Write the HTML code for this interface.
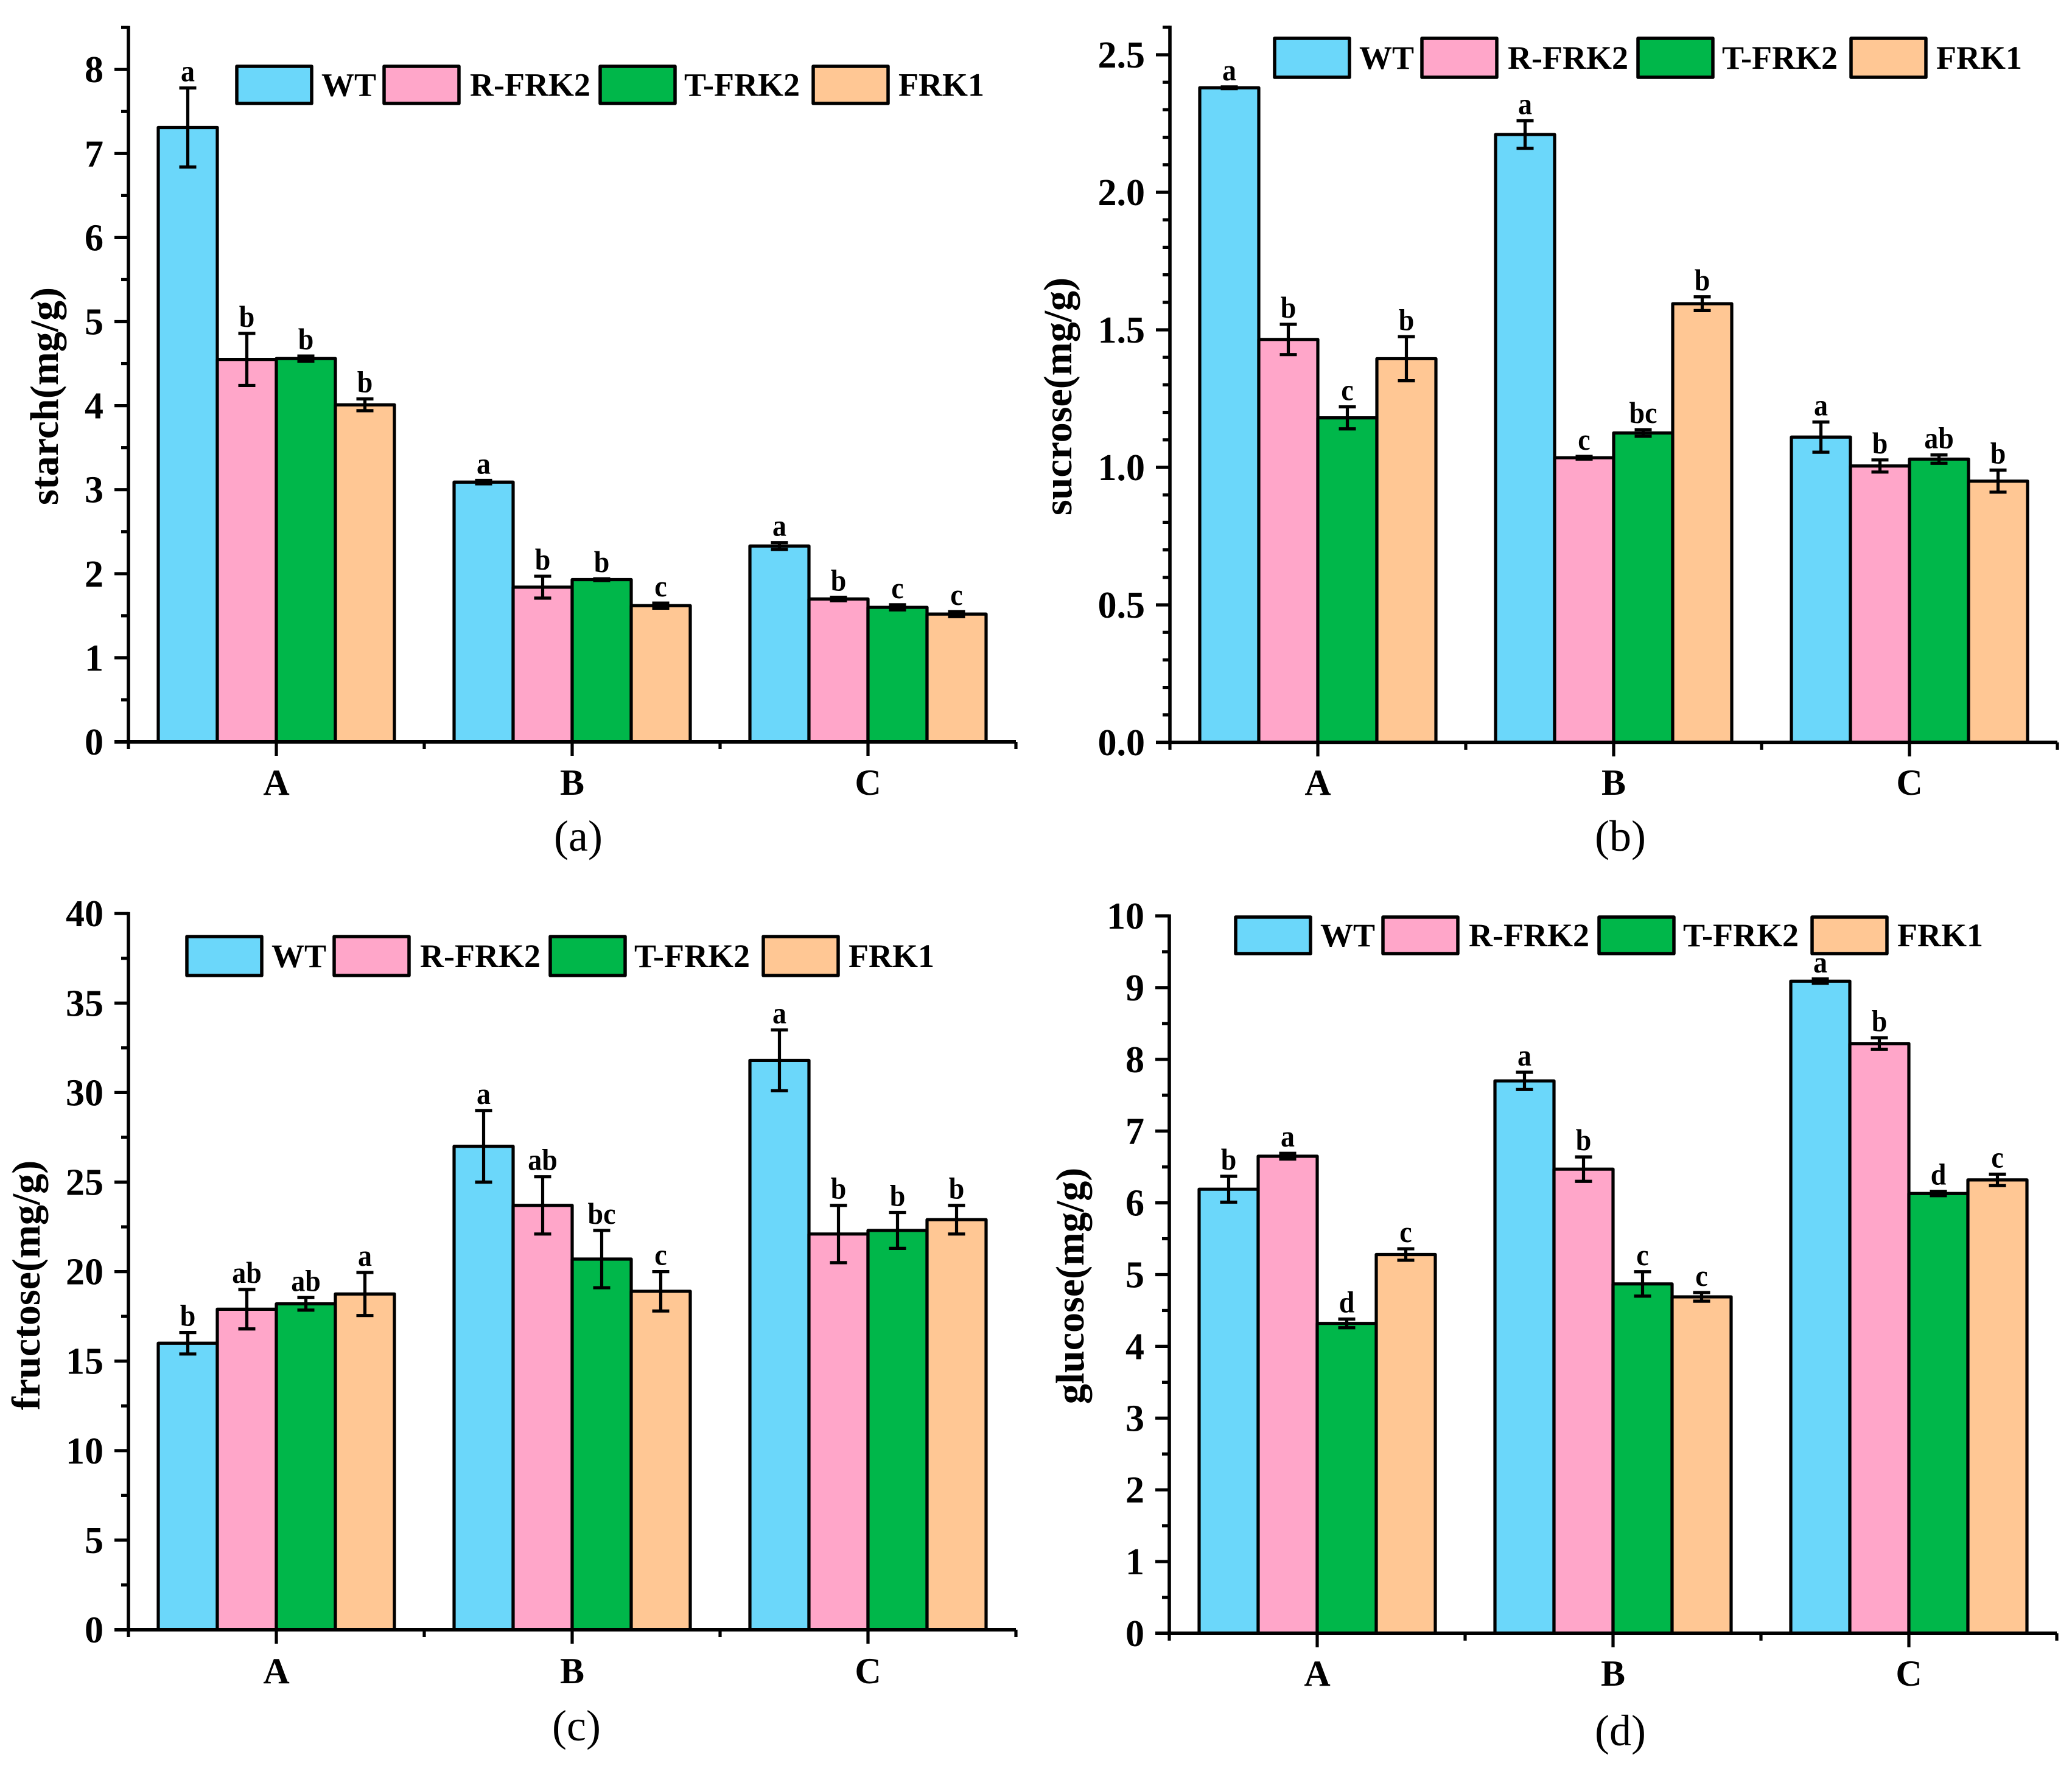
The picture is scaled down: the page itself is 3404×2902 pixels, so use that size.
<!DOCTYPE html>
<html lang="en">
<head>
<meta charset="utf-8">
<title>Sugar and starch content bar charts</title>
<style>
html,body{margin:0;padding:0;background:#fff}
svg{display:block}
text{font-family:"Liberation Serif",serif;fill:#000}
</style>
</head>
<body>
<svg id="figure" xmlns="http://www.w3.org/2000/svg" width="3404" height="2902" viewBox="0 0 3404 2902"></svg>
<script>
const categories = ['A', 'B', 'C'];
const seriesNames = ['WT', 'R-FRK2', 'T-FRK2', 'FRK1'];
const seriesColors = ['#6BD7FA', '#FFA6C9', '#00B74A', '#FFC794'];

const starchTicks = ['0', '1', '2', '3', '4', '5', '6', '7', '8'];
const starchMeans = [[7.31, 3.09, 2.33], [4.55, 1.84, 1.70], [4.56, 1.93, 1.60], [4.01, 1.62, 1.52]];
const starchErrors = [[0.47, 0.02, 0.04], [0.31, 0.13, 0.02], [0.03, 0.01, 0.03], [0.07, 0.03, 0.03]];
const starchLetters = [['a', 'a', 'a'], ['b', 'b', 'b'], ['b', 'b', 'c'], ['b', 'c', 'c']];

const sucroseTicks = ['0.0', '0.5', '1.0', '1.5', '2.0', '2.5'];
const sucroseMeans = [[2.38, 2.21, 1.11], [1.465, 1.035, 1.005], [1.18, 1.125, 1.03], [1.395, 1.595, 0.95]];
const sucroseErrors = [[0.003, 0.05, 0.055], [0.055, 0.005, 0.022], [0.04, 0.012, 0.015], [0.08, 0.025, 0.04]];
const sucroseLetters = [['a', 'a', 'a'], ['b', 'c', 'b'], ['c', 'bc', 'ab'], ['b', 'b', 'b']];

const fructoseTicks = ['0', '5', '10', '15', '20', '25', '30', '35', '40'];
const fructoseMeans = [[16.0, 27.0, 31.8], [17.9, 23.7, 22.1], [18.2, 20.7, 22.3], [18.75, 18.9, 22.9]];
const fructoseErrors = [[0.6, 2.0, 1.7], [1.1, 1.6, 1.6], [0.35, 1.6, 1.0], [1.2, 1.1, 0.8]];
const fructoseLetters = [['b', 'a', 'a'], ['ab', 'ab', 'b'], ['ab', 'bc', 'b'], ['a', 'c', 'b']];

const glucoseTicks = ['0', '1', '2', '3', '4', '5', '6', '7', '8', '9', '10'];
const glucoseMeans = [[6.19, 7.70, 9.09], [6.65, 6.47, 8.22], [4.32, 4.87, 6.13], [5.28, 4.69, 6.32]];
const glucoseErrors = [[0.18, 0.12, 0.03], [0.04, 0.17, 0.08], [0.06, 0.17, 0.03], [0.08, 0.06, 0.08]];
const glucoseLetters = [['b', 'a', 'a'], ['a', 'b', 'b'], ['d', 'c', 'd'], ['c', 'c', 'c']];

const panels = [
  {id: 'starch', title: 'starch(mg/g)', caption: '(a)', ticks: starchTicks, means: starchMeans, errors: starchErrors, letters: starchLetters,
   axisX: 211, y0: 1219, pxPerUnit: 138.1, yMax: 8.5, minorPerMajor: 2,
   titleX: 95, titleY: 651, titleSize: 66, legendX: 389, legendTop: 109, legendH: 61, catBase: 1306, capX: 950, capBase: 1398},
  {id: 'sucrose', title: 'sucrose(mg/g)', caption: '(b)', ticks: sucroseTicks, means: sucroseMeans, errors: sucroseErrors, letters: sucroseLetters,
   axisX: 1922, y0: 1220, pxPerUnit: 452, yMax: 2.6, minorPerMajor: 5,
   titleX: 1760, titleY: 651.5, titleSize: 66, legendX: 2094, legendTop: 63, legendH: 64, catBase: 1306, capX: 2662, capBase: 1398},
  {id: 'fructose', title: 'fructose(mg/g)', caption: '(c)', ticks: fructoseTicks, means: fructoseMeans, errors: fructoseErrors, letters: fructoseLetters,
   axisX: 211, y0: 2678, pxPerUnit: 29.42, yMax: 40, minorPerMajor: 2,
   titleX: 65, titleY: 2112, titleSize: 66, legendX: 307, legendTop: 1539, legendH: 64, catBase: 2766, capX: 947, capBase: 2860},
  {id: 'glucose', title: 'glucose(mg/g)', caption: '(d)', ticks: glucoseTicks, means: glucoseMeans, errors: glucoseErrors, letters: glucoseLetters,
   axisX: 1921, y0: 2684, pxPerUnit: 117.9, yMax: 10, minorPerMajor: 2,
   titleX: 1780, titleY: 2113, titleSize: 66, legendX: 2030, legendTop: 1507, legendH: 60, catBase: 2770, capX: 2662, capBase: 2868}
];

const NS = 'http://www.w3.org/2000/svg';
const BAR_W = 97;
const CAT_GAP = 486;
const STROKE = 5.2;
const legendBoxOffsets = [0, 242, 597, 947];
const legendTextOffsets = [139, 383, 735, 1087];
const legendBoxW = 123;

function mk(parent, tag, attrs, txt) {
  const el = document.createElementNS(NS, tag);
  for (const k in attrs) el.setAttribute(k, attrs[k]);
  if (txt !== undefined) el.textContent = txt;
  parent.appendChild(el);
  return el;
}
function line(parent, x1, y1, x2, y2, w) {
  return mk(parent, 'line', {x1: x1, y1: y1, x2: x2, y2: y2, stroke: '#000', 'stroke-width': w || STROKE});
}

const fig = document.getElementById('figure');

panels.forEach(function (p) {
  const yScale = function (v) { return p.y0 - v * p.pxPerUnit; };
  const xScale = function (c, s) { return p.axisX + CAT_GAP / 2 + CAT_GAP * c + (s - 2) * BAR_W; };
  const xEnd = p.axisX + CAT_GAP * categories.length;

  const g = mk(fig, 'g', {});
  
  

  /* bars */
  p.means.forEach(function (row, s) {
    row.forEach(function (v, c) {
      const bar = mk(g, 'rect', {x: xScale(c, s), y: yScale(v), width: BAR_W, height: p.y0 - yScale(v),
        fill: seriesColors[s], stroke: '#000', 'stroke-width': STROKE, 'stroke-linejoin': 'round'});
      
      
    });
  });

  /* error bars and significance letters */
  p.means.forEach(function (row, s) {
    row.forEach(function (v, c) {
      const cx = xScale(c, s) + BAR_W / 2;
      const hi = yScale(v + p.errors[s][c]);
      const lo = yScale(v - p.errors[s][c]);
      const eg = mk(g, 'g', {});
      
      
      line(eg, cx, hi, cx, lo);
      line(eg, cx - 14, hi, cx + 14, hi);
      line(eg, cx - 14, lo, cx + 14, lo);
      const t = mk(g, 'text', {transform: 'translate(' + cx + ' ' + (hi - 11) + ') scale(0.92 1)', 'text-anchor': 'middle', 'font-size': 50, 'font-weight': 700}, p.letters[s][c]);
      
      
    });
  });

  /* y axis */
  const ya = mk(g, 'g', {});
  
  
  line(ya, p.axisX, yScale(p.yMax) - 2.5, p.axisX, p.y0, 5.6);
  const majorVals = p.ticks.map(parseFloat);
  const majorStep = majorVals[1] - majorVals[0];
  const minorStep = majorStep / p.minorPerMajor;
  for (let i = 0; i * minorStep <= p.yMax + 1e-9; i++) {
    const isMajor = i % p.minorPerMajor === 0;
    line(ya, p.axisX - (isMajor ? 23 : 12), yScale(i * minorStep), p.axisX, yScale(i * minorStep));
  }
  p.ticks.forEach(function (lab) {
    const t = mk(ya, 'text', {x: p.axisX - 41, y: yScale(parseFloat(lab)) + 21, 'text-anchor': 'end', 'font-size': 62, 'font-weight': 700}, lab);
    
    
  });

  /* x axis */
  const xa = mk(g, 'g', {});
  
  
  line(xa, p.axisX - 23, p.y0, xEnd, p.y0, 6);
  for (let i = 0; i <= categories.length * 2; i++) {
    const tx = p.axisX + i * CAT_GAP / 2;
    line(xa, tx, p.y0, tx, p.y0 + (i % 2 ? 23 : 12));
  }
  categories.forEach(function (cat, c) {
    const t = mk(xa, 'text', {x: p.axisX + CAT_GAP / 2 + CAT_GAP * c, y: p.catBase, 'text-anchor': 'middle', 'font-size': 60, 'font-weight': 700}, cat);
    
    
  });

  /* y title */
  const yt = mk(g, 'text', {transform: 'translate(' + p.titleX + ' ' + p.titleY + ') rotate(-90)', 'text-anchor': 'middle', 'font-size': p.titleSize, 'font-weight': 700}, p.title);
  
  

  /* legend */
  const lg = mk(g, 'g', {});
  
  
  seriesNames.forEach(function (nm, s) {
    const sw = mk(lg, 'rect', {x: p.legendX + legendBoxOffsets[s], y: p.legendTop, width: legendBoxW, height: p.legendH,
      fill: seriesColors[s], stroke: '#000', 'stroke-width': 5.5, 'stroke-linejoin': 'round'});
    
    
    const t = mk(lg, 'text', {x: p.legendX + legendTextOffsets[s], y: p.legendTop + p.legendH / 2 + 18, 'font-size': 54, 'font-weight': 700}, nm);
    
    
  });

  /* caption */
  const cp = mk(g, 'text', {x: p.capX, y: p.capBase, 'text-anchor': 'middle', 'font-size': 72}, p.caption);
  
  
});
</script>
</body>
</html>
